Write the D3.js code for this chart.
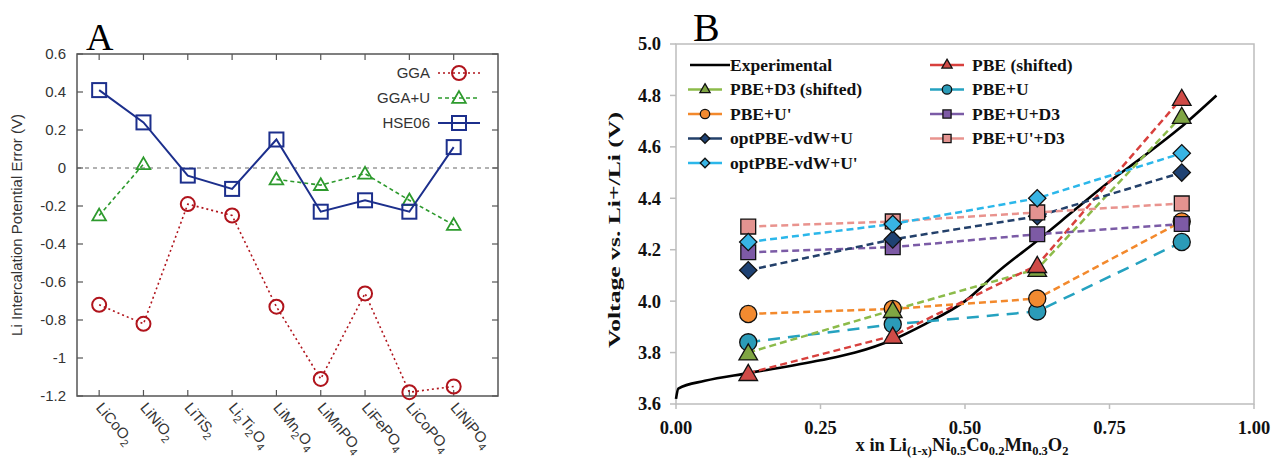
<!DOCTYPE html>
<html>
  <head>
    <meta charset="utf-8">
    <title>Li intercalation voltages</title>
  </head>

  <style>
    body { margin: 0; background: #fff; }
    .sans text { font-family: "Liberation Sans", Arial, sans-serif; }
    .serif text { font-family: "Liberation Serif", "Times New Roman", serif; font-weight: bold; }
  </style>

  <body>
    <script src="https://cdn.jsdelivr.net/npm/d3@7"></script>
    <script>

      // ---- panel A data ----
      var categoriesA = ["LiCoO_2", "LiNiO_2", "LiTiS_2", "Li_2Ti_2O_4", "LiMn_2O_4",
                         "LiMnPO_4", "LiFePO_4", "LiCoPO_4", "LiNiPO_4"];
      var ggaValues   = [-0.72, -0.82, -0.19, -0.25, -0.73, -1.11, -0.66, -1.18, -1.15];
      var ggaUValues  = [-0.25, 0.02, null, null, -0.06, -0.09, -0.03, -0.17, -0.30];
      var hse06Values = [0.41, 0.24, -0.04, -0.11, 0.15, -0.23, -0.17, -0.23, 0.11];
      var yTicksA = [0.6, 0.4, 0.2, 0, -0.2, -0.4, -0.6, -0.8, -1, -1.2];

      // ---- panel B data ----
      var xPointsB = [0.125, 0.375, 0.625, 0.875];
      var expX = [0, 0.004, 0.05, 0.125, 0.25, 0.31, 0.375, 0.43, 0.5, 0.56, 0.625, 0.69, 0.75, 0.81, 0.87, 0.935];
      var expV = [3.62, 3.66, 3.69, 3.72, 3.77, 3.80, 3.85, 3.91, 4.0, 4.12, 4.235, 4.355, 4.465, 4.565, 4.67, 4.80];
      var pbeShifted   = [3.72, 3.865, 4.14, 4.79];
      var pbeD3Shifted = [3.80, 3.965, 4.125, 4.72];
      var pbeU         = [3.84, 3.91, 3.96, 4.23];
      var pbeUp        = [3.95, 3.97, 4.01, 4.31];
      var pbeUD3       = [4.19, 4.21, 4.26, 4.30];
      var optU         = [4.12, 4.24, 4.33, 4.50];
      var pbeUpD3      = [4.29, 4.31, 4.345, 4.38];
      var optUp        = [4.23, 4.30, 4.40, 4.575];
      var yTicksB = [3.6, 3.8, 4.0, 4.2, 4.4, 4.6, 4.8, 5.0];
      var xTicksB = [0, 0.25, 0.5, 0.75, 1.0];

      var svg = d3.select("body").append("svg")
        .attr("width", 1272)
        .attr("height", 459);

      // text with "_2" / "_(1-x)" style subscripts -> tspans
      function subText(sel, str, subSize, shift) {
        var down = false;
        str.split(/(_\([^)]*\)|_[\d.]+)/).forEach(function (part) {
          if (!part) return;
          if (part[0] === "_") {
            sel.append("tspan").attr("font-size", subSize).attr("dy", shift).text(part.slice(1));
            down = true;
          } else {
            sel.append("tspan").attr("dy", down ? -shift : 0).text(part);
            down = false;
          }
        });
      }

      // =================== Panel A ===================
      var gA = svg.append("g").attr("class", "sans");
      var xA = d3.scaleLinear().domain([-0.5, 9]).range([77, 498]);
      var yA = d3.scaleLinear().domain([-1.2, 0.6]).range([396, 54]);

      // zero line
      gA.append("line")
        .attr("x1", xA(-0.5)).attr("x2", xA(9))
        .attr("y1", yA(0)).attr("y2", yA(0))
        .attr("stroke", "#666").attr("stroke-width", 1.2)
        .attr("stroke-dasharray", "4,4");

      // inward ticks on all sides
      yTicksA.forEach(function (t) {
        gA.append("line").attr("x1", xA(-0.5)).attr("x2", xA(-0.5) + 6)
          .attr("y1", yA(t)).attr("y2", yA(t)).attr("stroke", "#555").attr("stroke-width", 1.2);
        gA.append("line").attr("x1", xA(9)).attr("x2", xA(9) - 6)
          .attr("y1", yA(t)).attr("y2", yA(t)).attr("stroke", "#555").attr("stroke-width", 1.2);
        gA.append("text").attr("x", 66).attr("y", yA(t)).attr("dy", "0.36em")
          .attr("text-anchor", "end").attr("font-size", 15).attr("fill", "#333")
          .text(String(t));
      });
      categoriesA.forEach(function (c, i) {
        gA.append("line").attr("x1", xA(i)).attr("x2", xA(i))
          .attr("y1", yA(-1.2)).attr("y2", yA(-1.2) - 6).attr("stroke", "#555").attr("stroke-width", 1.2);
        gA.append("line").attr("x1", xA(i)).attr("x2", xA(i))
          .attr("y1", yA(0.6)).attr("y2", yA(0.6) + 6).attr("stroke", "#555").attr("stroke-width", 1.2);
        var lab = gA.append("text")
          .attr("transform", "translate(" + (xA(i) - 4) + "," + 408 + ") rotate(50)")
          .attr("font-size", 15).attr("fill", "#333");
        subText(lab, c, 11, 4);
      });

      gA.append("rect")
        .attr("x", xA(-0.5)).attr("y", yA(0.6))
        .attr("width", xA(9) - xA(-0.5)).attr("height", yA(-1.2) - yA(0.6))
        .attr("fill", "none").attr("stroke", "#555").attr("stroke-width", 1.5);

      gA.append("text")
        .attr("transform", "translate(22," + yA(-0.3) + ") rotate(-90)")
        .attr("text-anchor", "middle").attr("font-size", 15).attr("fill", "#333")
        .text("Li Intercalation Potential Error (V)");

      gA.append("text").attr("x", 86).attr("y", 50)
        .style("font-family", "Liberation Serif, serif")
        .attr("font-size", 38).text("A");

      var seriesA = [
        { name: "GGA", values: ggaValues, color: "#b0141c", dash: "2,3", width: 1.6, sym: "circle" },
        { name: "GGA+U", values: ggaUValues, color: "#2d9a2d", dash: "4,3", width: 1.6, sym: "triangle" },
        { name: "HSE06", values: hse06Values, color: "#1c2f8c", dash: null, width: 2, sym: "square" }
      ];

      var lineA = d3.line()
        .defined(function (d) { return d !== null; })
        .x(function (d, i) { return xA(i); })
        .y(function (d) { return yA(d); });

      function drawMarkerA(g, sym, cx, cy, color) {
        if (sym === "circle") {
          g.append("circle").attr("cx", cx).attr("cy", cy).attr("r", 7)
            .attr("fill", "none").attr("stroke", color).attr("stroke-width", 2);
        } else if (sym === "triangle") {
          g.append("path").attr("d", d3.symbol().type(d3.symbolTriangle).size(80)())
            .attr("transform", "translate(" + cx + "," + (cy + 1) + ")")
            .attr("fill", "none").attr("stroke", color).attr("stroke-width", 1.8);
        } else {
          g.append("rect").attr("x", cx - 7).attr("y", cy - 7).attr("width", 14).attr("height", 14)
            .attr("fill", "none").attr("stroke", color).attr("stroke-width", 2);
        }
      }

      seriesA.forEach(function (s, k) {
        gA.append("path").datum(s.values)
          .attr("d", lineA)
          .attr("fill", "none").attr("stroke", s.color).attr("stroke-width", s.width)
          .attr("stroke-dasharray", s.dash);
        s.values.forEach(function (v, i) {
          if (v !== null) drawMarkerA(gA, s.sym, xA(i), yA(v), s.color);
        });
        // legend
        var ly = 73 + k * 25;
        gA.append("text").attr("x", 430).attr("y", ly).attr("dy", "0.36em")
          .attr("text-anchor", "end").attr("font-size", 15).attr("fill", "#333").text(s.name);
        gA.append("line").attr("x1", 438).attr("x2", 480).attr("y1", ly).attr("y2", ly)
          .attr("stroke", s.color).attr("stroke-width", s.width).attr("stroke-dasharray", s.dash);
        drawMarkerA(gA, s.sym, 459, ly, s.color);
      });

      // =================== Panel B ===================
      var gB = svg.append("g").attr("class", "serif");
      var xB = d3.scaleLinear().domain([0, 1]).range([676, 1254]);
      var yB = d3.scaleLinear().domain([3.6, 5.0]).range([404, 44]);

      gB.append("rect")
        .attr("x", xB(0)).attr("y", yB(5.0))
        .attr("width", xB(1) - xB(0)).attr("height", yB(3.6) - yB(5.0))
        .attr("fill", "none").attr("stroke", "#bdbdbd").attr("stroke-width", 1.5);

      yTicksB.forEach(function (t) {
        gB.append("line").attr("x1", xB(0) - 6).attr("x2", xB(0))
          .attr("y1", yB(t)).attr("y2", yB(t)).attr("stroke", "#bdbdbd").attr("stroke-width", 1.5);
        gB.append("text").attr("x", 661).attr("y", yB(t)).attr("dy", "0.35em")
          .attr("text-anchor", "end").attr("font-size", 18.5).attr("fill", "#111")
          .text(d3.format(".1f")(t));
      });
      xTicksB.forEach(function (t) {
        gB.append("line").attr("x1", xB(t)).attr("x2", xB(t))
          .attr("y1", yB(3.6)).attr("y2", yB(3.6) + 5).attr("stroke", "#bdbdbd").attr("stroke-width", 1.5);
        gB.append("text").attr("x", xB(t)).attr("y", 434)
          .attr("text-anchor", "middle").attr("font-size", 18.5).attr("fill", "#111")
          .text(d3.format(".2f")(t));
      });

      gB.append("text")
        .attr("transform", "translate(620," + 230 + ") rotate(-90)")
        .attr("text-anchor", "middle").attr("font-size", 17).attr("fill", "#111")
        .attr("textLength", 236).attr("lengthAdjust", "spacingAndGlyphs")
        .text("Voltage vs. Li+/Li (V)");

      var xl = gB.append("text").attr("x", 962).attr("y", 451)
        .attr("text-anchor", "middle").attr("font-size", 18.5).attr("fill", "#111");
      subText(xl, "x in Li_(1-x)Ni_0.5Co_0.2Mn_0.3O_2", 12.5, 4);

      gB.append("text").attr("x", 693).attr("y", 41)
        .style("font-weight", "normal").attr("font-size", 40).text("B");

      var symbols = {
        triangle: d3.symbol().type(d3.symbolTriangle).size(150),
        circle: d3.symbol().type(d3.symbolCircle).size(230),
        square: d3.symbol().type(d3.symbolSquare).size(220),
        diamond: d3.symbol().type(d3.symbolSquare).size(150)
      };

      var seriesB = [
        { name: "PBE+U", values: pbeU, color: "#25a2c0", fill: "#2b9bb8", sym: "circle", dash: "12,8" },
        { name: "PBE+U'", values: pbeUp, color: "#f3892c", fill: "#f28a30", sym: "circle", dash: "7,4" },
        { name: "PBE+D3 (shifted)", values: pbeD3Shifted, color: "#8cbb4a", fill: "#7fa543", sym: "triangle", dash: "7,4" },
        { name: "PBE (shifted)", values: pbeShifted, color: "#d8403d", fill: "#cf4b47", sym: "triangle", dash: "7,4" },
        { name: "PBE+U+D3", values: pbeUD3, color: "#7b5ba6", fill: "#7d5aa5", sym: "square", dash: "7,4" },
        { name: "optPBE-vdW+U", values: optU, color: "#23406a", fill: "#1f4273", sym: "diamond", dash: "7,4" },
        { name: "PBE+U'+D3", values: pbeUpD3, color: "#e9938e", fill: "#e39390", sym: "square", dash: "7,4" },
        { name: "optPBE-vdW+U'", values: optUp, color: "#2bb7ea", fill: "#38b4e4", sym: "diamond", dash: "7,4" }
      ];

      var lineB = d3.line()
        .x(function (d, i) { return xB(xPointsB[i]); })
        .y(function (d) { return yB(d); });

      function drawMarkerB(g, s, cx, cy, scale) {
        var rot = s.sym === "diamond" ? " rotate(45)" : "";
        var dy = s.sym === "triangle" ? 2 * scale : 0;
        g.append("path").attr("d", symbols[s.sym]())
          .attr("transform", "translate(" + cx + "," + (cy + dy) + ")" + rot + " scale(" + scale + ")")
          .attr("fill", s.fill).attr("stroke", "#111").attr("stroke-width", 1.3 / scale);
      }

      // experimental curve
      var expLine = d3.line()
        .curve(d3.curveMonotoneX)
        .x(function (d) { return xB(d[0]); })
        .y(function (d) { return yB(d[1]); });
      gB.append("path").datum(d3.zip(expX, expV))
        .attr("d", expLine)
        .attr("fill", "none").attr("stroke", "#000").attr("stroke-width", 2.6);

      seriesB.forEach(function (s) {
        gB.append("path").datum(s.values).attr("d", lineB)
          .attr("fill", "none").attr("stroke", s.color).attr("stroke-width", 2.5)
          .attr("stroke-dasharray", s.dash);
      });
      seriesB.forEach(function (s) {
        s.values.forEach(function (v, i) { drawMarkerB(gB, s, xB(xPointsB[i]), yB(v), 1); });
      });

      // legend (two columns)
      var legendB = [
        { col: 0, row: 0, s: null },
        { col: 0, row: 1, s: seriesB[2] },
        { col: 0, row: 2, s: seriesB[1] },
        { col: 0, row: 3, s: seriesB[5] },
        { col: 0, row: 4, s: seriesB[7] },
        { col: 1, row: 0, s: seriesB[3] },
        { col: 1, row: 1, s: seriesB[0] },
        { col: 1, row: 2, s: seriesB[4] },
        { col: 1, row: 3, s: seriesB[6] }
      ];
      legendB.forEach(function (e) {
        var x0 = e.col === 0 ? 688 : 930;
        var ly = 65 + e.row * 24.5;
        if (!e.s) {
          gB.append("line").attr("x1", x0 + 2).attr("x2", x0 + 42).attr("y1", ly).attr("y2", ly)
            .attr("stroke", "#000").attr("stroke-width", 2.6);
          gB.append("text").attr("x", x0 + 42).attr("y", ly).attr("dy", "0.33em")
            .attr("font-size", 17.5).attr("fill", "#111").text("Experimental");
          return;
        }
        gB.append("line").attr("x1", x0).attr("x2", x0 + 34).attr("y1", ly).attr("y2", ly)
          .attr("stroke", e.s.color).attr("stroke-width", 2.5);
        drawMarkerB(gB, e.s, x0 + 17, ly - (e.s.sym === "triangle" ? 1 : 0), 0.55);
        gB.append("text").attr("x", x0 + 42).attr("y", ly).attr("dy", "0.33em")
          .attr("font-size", 17.5).attr("fill", "#111").text(e.s.name);
      });

    </script>
  </body>
</html>
